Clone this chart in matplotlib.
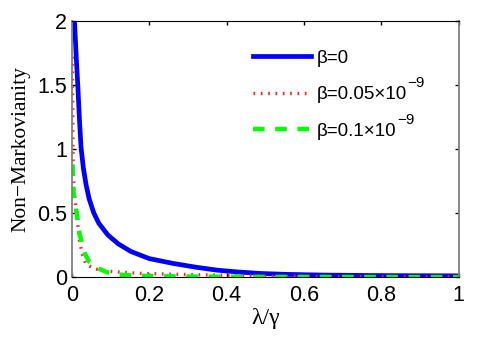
import matplotlib
matplotlib.use('Agg')
import matplotlib.pyplot as plt

plt.rcParams['font.family'] = ['Liberation Sans', 'DejaVu Sans']

# beta = 0 (blue solid)
x_b0 = [0.007, 0.011, 0.0155, 0.02, 0.024, 0.03, 0.037, 0.045, 0.057, 0.07,
        0.093, 0.12, 0.153, 0.2, 0.262, 0.32, 0.374, 0.43, 0.486, 0.55,
        0.65, 0.8, 1.0]
y_b0 = [2.0, 1.75, 1.5, 1.22, 1.01, 0.85, 0.72, 0.61, 0.5, 0.42,
        0.33, 0.26, 0.2, 0.145, 0.107, 0.078, 0.055, 0.04, 0.029, 0.022,
        0.016, 0.012, 0.01]

# beta = 0.05e-9 (red dotted)
x_b1 = [0.0015, 0.0025, 0.003, 0.004, 0.007, 0.0155, 0.02, 0.028, 0.037, 0.059,
        0.093, 0.12, 0.175, 0.23, 0.38, 0.5, 0.7, 1.0]
y_b1 = [1.72, 1.3, 1.0, 0.8, 0.64, 0.41, 0.28, 0.17, 0.1, 0.065,
        0.047, 0.04, 0.03, 0.025, 0.015, 0.008, 0.004, 0.002]

# beta = 0.1e-9 (green dashed)
x_b2 = [0.002, 0.003, 0.004, 0.008, 0.013, 0.02, 0.033, 0.045, 0.067, 0.09,
        0.12, 0.18, 0.3, 0.5, 1.0]
y_b2 = [0.88, 0.8, 0.68, 0.58, 0.5, 0.34, 0.19, 0.12, 0.07, 0.04,
        0.02, 0.01, 0.005, 0.002, 0.0]

labels = ['β=0', 'β=0.05×10', 'β=0.1×10']
sup = '−9'

fig = plt.figure(figsize=(4.85, 3.43), dpi=100)
ax = fig.add_axes([0.148, 0.192, 0.798, 0.747])

ax.plot(x_b0, y_b0, color='#0000ff', lw=3.4, label=labels[0])
ax.plot(x_b1, y_b1, color='#ff2020', lw=2.4, linestyle=(0, (0.5, 1.7)),
        label=labels[1])
ax.plot(x_b2, y_b2, color='#00ff00', lw=3.2, linestyle=(0, (2.6, 2.4)),
        label=labels[2])

ax.set_xlim(0, 1)
ax.set_ylim(0, 2)
ax.set_xticks([0, 0.2, 0.4, 0.6, 0.8, 1])
ax.set_xticklabels(['0', '0.2', '0.4', '0.6', '0.8', '1'])
ax.set_yticks([0, 0.5, 1, 1.5, 2])
ax.set_yticklabels(['0', '0.5', '1', '1.5', '2'])
ax.tick_params(direction='in', top=True, right=True, length=3, width=1,
               labelsize=15.5)
ax.tick_params(axis='x', pad=6)
ax.tick_params(axis='y', pad=3.5)
for s in ['left', 'right']:
    ax.spines[s].set_color('#808080')
    ax.spines[s].set_linewidth(1.3)

ax.set_xlabel('λ/γ', family='Liberation Serif', fontsize=17, labelpad=1)
ax.set_ylabel('Non−Markovianity', family='Liberation Serif', fontsize=15.5,
              labelpad=5)

leg = ax.legend(loc='upper left', bbox_to_anchor=(0.467, 0.887), frameon=False,
                fontsize=13.5, handlelength=3.1, handletextpad=0.3,
                labelspacing=1.02, borderpad=0, borderaxespad=0)

# superscript exponents after the legend labels
fig.canvas.draw()
W, H = fig.bbox.width, fig.bbox.height
for t in leg.get_texts()[1:]:
    bb = t.get_window_extent()
    fig.text((bb.x1 + 1) / W, (bb.y0 + 16) / H, sup, fontsize=11,
             va='baseline', ha='left')

plt.savefig('out.png', dpi=100)
